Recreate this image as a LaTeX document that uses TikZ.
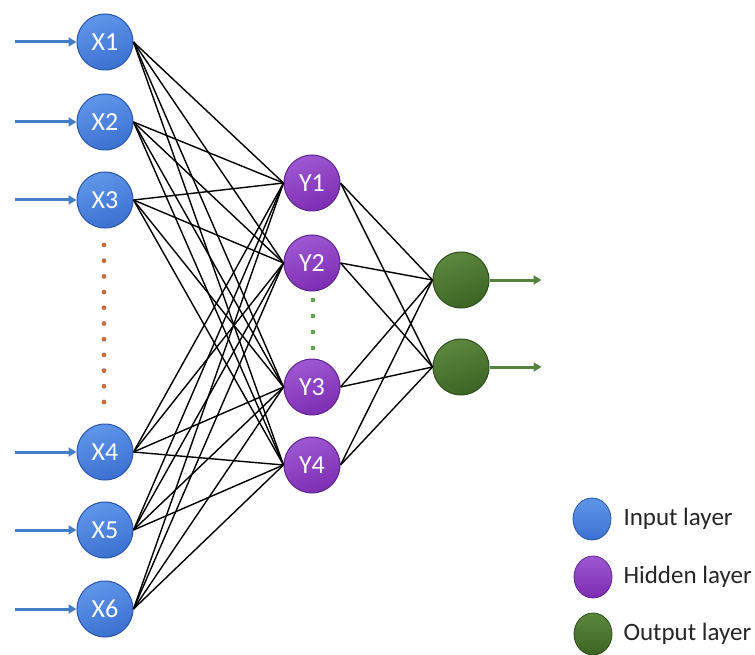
\documentclass[tikz,border=0pt]{standalone}
\usepackage{fontspec}
\setmainfont{Carlito}
\usetikzlibrary{arrows.meta,shapes.geometric}
\definecolor{inblue}{RGB}{60,112,210}
\definecolor{inbluetop}{RGB}{95,150,232}
\definecolor{inbluedark}{RGB}{40,85,170}
\definecolor{hidpurple}{RGB}{125,45,178}
\definecolor{hidpurpletop}{RGB}{158,88,210}
\definecolor{hidpurpledark}{RGB}{95,35,140}
\definecolor{outgreen}{RGB}{60,100,36}
\definecolor{outgreentop}{RGB}{92,136,62}
\definecolor{outgreendark}{RGB}{45,78,25}
\definecolor{arrowblue}{RGB}{70,125,200}
\definecolor{arrowgreen}{RGB}{85,130,60}
\definecolor{dotorange}{RGB}{195,110,55}
\definecolor{dotgreen}{RGB}{100,165,85}
\tikzset{
  neuron/.style={circle, minimum size=56pt, inner sep=0pt, line width=1pt,
    text=white, font=\fontsize{26}{26}\selectfont},
  innode/.style={neuron, draw=inbluedark, top color=inbluetop, bottom color=inblue, shading angle=20},
  hidnode/.style={neuron, draw=hidpurpledark, top color=hidpurpletop, bottom color=hidpurple, shading angle=20},
  outnode/.style={neuron, draw=outgreendark, top color=outgreentop, bottom color=outgreen, shading angle=20},
  legball/.style={ellipse, minimum width=38pt, minimum height=42pt, inner sep=0pt, line width=0.8pt},
  legtext/.style={anchor=west, font=\fontsize{25}{25}\selectfont, text=black!85},
  edge/.style={black, line width=1.4pt},
  inarrow/.style={arrowblue, line width=3pt, -{Triangle[length=8pt,width=9pt]}},
  outarrow/.style={arrowgreen, line width=3pt, -{Triangle[length=8pt,width=9pt]}},
}
\begin{document}
\begin{tikzpicture}[x=1pt,y=-1pt]
\useasboundingbox (0,0) rectangle (755,655);
% input nodes
\node[innode] (X1) at (105,42) {X1};
\node[innode] (X2) at (105,122) {X2};
\node[innode] (X3) at (105,200) {X3};
\node[innode] (X4) at (105,452) {X4};
\node[innode] (X5) at (105,530) {X5};
\node[innode] (X6) at (105,609) {X6};
% hidden nodes
\node[hidnode] (Y1) at (312,183) {Y1};
\node[hidnode] (Y2) at (312,263) {Y2};
\node[hidnode] (Y3) at (312,387) {Y3};
\node[hidnode] (Y4) at (312,465) {Y4};
% output nodes
\node[outnode] (O1) at (461,280) {};
\node[outnode] (O2) at (461,367) {};
% edges input -> hidden
\foreach \i in {1,...,6}{
  \foreach \j in {1,...,4}{
    \draw[edge] (X\i.east) -- (Y\j.west);
  }
}
\foreach \j in {1,...,4}{
  \foreach \k in {1,2}{
    \draw[edge] (Y\j.east) -- (O\k.west);
  }
}
% input arrows
\foreach \i in {1,...,6}{
  \coordinate (s\i) at ([xshift=-62pt]X\i.west);
  \draw[inarrow] (s\i) -- (X\i.west);
}
% output arrows
\coordinate (e1) at ([xshift=52pt]O1.east);
\coordinate (e2) at ([xshift=52pt]O2.east);
\draw[outarrow] (O1.east) -- (e1);
\draw[outarrow] (O2.east) -- (e2);
% dots
\foreach \n in {0,...,10}{
  \fill[dotorange] (104,245+15.7*\n) circle (2.4pt);
}
\foreach \n in {0,...,3}{
  \fill[dotgreen] (313,300+16*\n) circle (2.4pt);
}
% legend
\node[legball, draw=inbluedark, top color=inbluetop, bottom color=inblue] (L1) at (592,519) {};
\node[legball, draw=hidpurpledark, top color=hidpurpletop, bottom color=hidpurple] (L2) at (593,577) {};
\node[legball, draw=outgreendark, top color=outgreentop, bottom color=outgreen] (L3) at (593,634) {};
\node[legtext] (T1) at (620,519) {Input layer};
\node[legtext] (T2) at (620,577) {Hidden layer};
\node[legtext] (T3) at (620,634) {Output layer};
\end{tikzpicture}
\end{document}
